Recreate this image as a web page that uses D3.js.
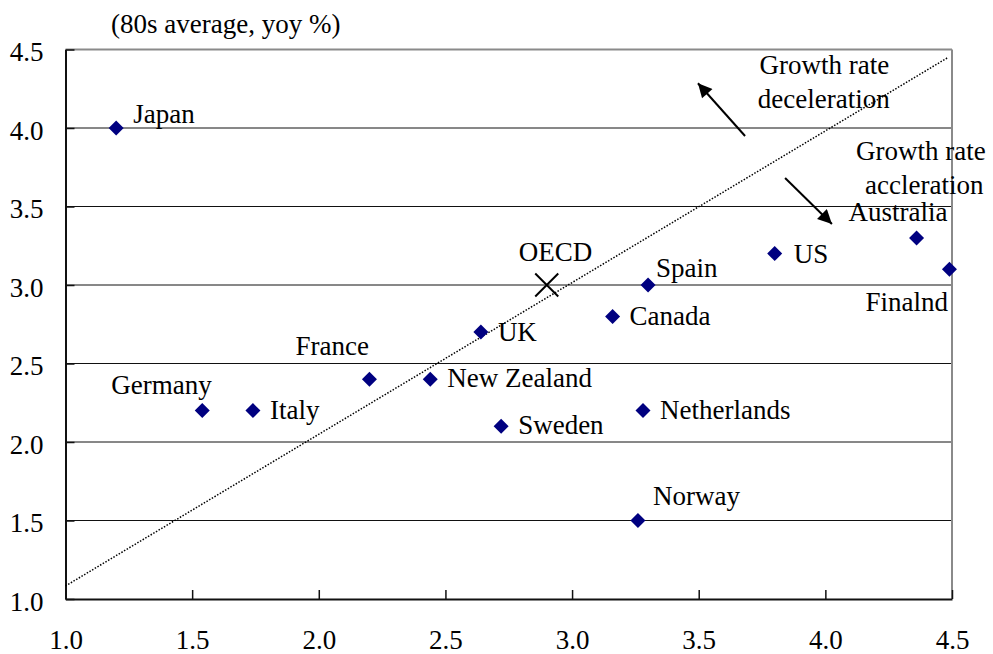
<!DOCTYPE html>
<html>
<head>
<meta charset="utf-8">
<script src="https://cdn.jsdelivr.net/npm/d3@7"></script>
<style>
  html, body { margin: 0; padding: 0; background: #fff; }
  svg { display: block; }
</style>
</head>
<body>
<svg id="chart" width="993" height="654"></svg>
<script>
// ---- data ----
const countries = ["Japan", "Germany", "Italy", "France", "New Zealand", "UK", "Sweden",
  "Canada", "Spain", "Netherlands", "Norway", "US", "Australia", "Finalnd"];
const xValues = [1.20, 1.54, 1.74, 2.20, 2.44, 2.64, 2.72, 3.16, 3.30, 3.28, 3.26, 3.80, 4.36, 4.49];
const yValues = [4.0, 2.2, 2.2, 2.4, 2.4, 2.7, 2.1, 2.8, 3.0, 2.2, 1.5, 3.2, 3.3, 3.1];
const oecdPoint = { name: "OECD", x: 2.9, y: 3.0 };
const trendLine = [[1.0, 1.083], [4.483, 4.448]];
const xTicks = [1.0, 1.5, 2.0, 2.5, 3.0, 3.5, 4.0, 4.5];
const yTicks = [1.0, 1.5, 2.0, 2.5, 3.0, 3.5, 4.0, 4.5];
const titleText = "(80s average, yoy %)";
const annotationTexts = [
  { text: "Growth rate", x: 3.74, y: 4.344 },
  { text: "deceleration", x: 3.733, y: 4.125 },
  { text: "Growth rate", x: 4.121, y: 3.796 },
  { text: "accleration", x: 4.157, y: 3.578 }
];
const arrows = [
  { from: [3.683, 3.949], to: [3.497, 4.285] },
  { from: [3.841, 3.682], to: [4.026, 3.389] }
];

// ---- layout (label offsets in px, relative to point) ----
const labelOffsets = {
  "Japan": [17, -5], "Germany": [-91, -17], "Italy": [17, 8], "France": [-74, -24],
  "New Zealand": [17, 8], "UK": [17, 9], "Sweden": [17, 8], "Canada": [17, 9],
  "Spain": [8, -8], "Netherlands": [17, 8], "Norway": [15, -16], "US": [19, 9],
  "Australia": [-68, -17], "Finalnd": [-84, 42], "OECD": [-28, -24]
};

const FS = "27px";
const FF = '"Liberation Serif", "Times New Roman", serif';
const svg = d3.select("#chart");
const x = d3.scaleLinear().domain([1, 4.5]).range([65.5, 952]);
const y = d3.scaleLinear().domain([1, 4.5]).range([599, 49.5]);

function styleText(sel) {
  return sel.style("font-family", FF).style("font-size", FS).style("fill", "#000");
}

// gridlines
svg.append("g").selectAll("line").data(yTicks.filter(d => d > 1 && d < 4.5)).join("line")
  .attr("x1", x(1)).attr("x2", x(4.5))
  .attr("y1", d => y(d)).attr("y2", d => y(d))
  .attr("stroke", "#111").attr("stroke-width", 1);

// top & right borders (gray)
svg.append("line").attr("x1", x(1)).attr("x2", x(4.5)).attr("y1", y(4.5)).attr("y2", y(4.5))
  .attr("stroke", "#8a8a8a").attr("stroke-width", 2);
svg.append("line").attr("x1", x(4.5)).attr("x2", x(4.5)).attr("y1", y(4.5)).attr("y2", y(1))
  .attr("stroke", "#8a8a8a").attr("stroke-width", 2);

// axes
const xAxis = d3.axisBottom(x).tickValues(xTicks).tickFormat(d3.format(".1f"))
  .tickSizeInner(-9).tickSizeOuter(0);
const gx = svg.append("g").attr("transform", `translate(0,${y(1)})`).call(xAxis);
gx.select(".domain").attr("stroke", "#111").attr("stroke-width", 2);
gx.selectAll(".tick line").attr("stroke", "#111").attr("stroke-width", 1.5);
styleText(gx.selectAll(".tick text").attr("y", 50).attr("dy", 0));

const yAxis = d3.axisLeft(y).tickValues(yTicks).tickFormat(d3.format(".1f"))
  .tickSizeInner(-9).tickSizeOuter(0).tickPadding(22);
const gy = svg.append("g").attr("transform", `translate(${x(1)},0)`).call(yAxis);
gy.select(".domain").attr("stroke", "#111").attr("stroke-width", 2);
gy.selectAll(".tick line").attr("stroke", "#111").attr("stroke-width", 1.5);
styleText(gy.selectAll(".tick text").attr("dy", 11));

// trend line
svg.append("line")
  .attr("x1", x(trendLine[0][0])).attr("y1", y(trendLine[0][1]))
  .attr("x2", x(trendLine[1][0])).attr("y2", y(trendLine[1][1]))
  .attr("stroke", "#000").attr("stroke-width", 1.5).attr("stroke-dasharray", "1.5,1.6");

// arrows
const defs = svg.append("defs");
defs.append("marker").attr("id", "ah").attr("viewBox", "0 0 10 10")
  .attr("refX", 10).attr("refY", 5).attr("markerWidth", 9).attr("markerHeight", 7)
  .attr("markerUnits", "strokeWidth").attr("orient", "auto")
  .append("path").attr("d", "M0,0 L10,5 L0,10 Z").attr("fill", "#000");
svg.append("g").selectAll("line").data(arrows).join("line")
  .attr("x1", d => x(d.from[0])).attr("y1", d => y(d.from[1]))
  .attr("x2", d => x(d.to[0])).attr("y2", d => y(d.to[1]))
  .attr("stroke", "#000").attr("stroke-width", 2).attr("marker-end", "url(#ah)");

// points
const pts = countries.map((c, i) => ({ name: c, x: xValues[i], y: yValues[i] }));
svg.append("g").selectAll("path").data(pts).join("path")
  .attr("transform", d => `translate(${x(d.x)},${y(d.y)})`)
  .attr("d", "M0,-7.5 L7.5,0 L0,7.5 L-7.5,0 Z")
  .attr("fill", "#000080");

// OECD cross
const oc = svg.append("g").attr("transform", `translate(${x(oecdPoint.x)},${y(oecdPoint.y)})`);
oc.append("path").attr("d", "M-11.5,-11.5 L11.5,11.5 M-11.5,11.5 L11.5,-11.5")
  .attr("stroke", "#000").attr("stroke-width", 2).attr("fill", "none");

// labels
styleText(svg.append("g").selectAll("text").data(pts.concat([oecdPoint])).join("text")
  .attr("x", d => x(d.x) + labelOffsets[d.name][0])
  .attr("y", d => y(d.y) + labelOffsets[d.name][1])
  .text(d => d.name));

// annotation text
styleText(svg.append("g").selectAll("text").data(annotationTexts).join("text")
  .attr("x", d => x(d.x)).attr("y", d => y(d.y))
  .text(d => d.text));

// title
styleText(svg.append("text").attr("x", 111).attr("y", 33).text(titleText));
</script>
</body>
</html>
